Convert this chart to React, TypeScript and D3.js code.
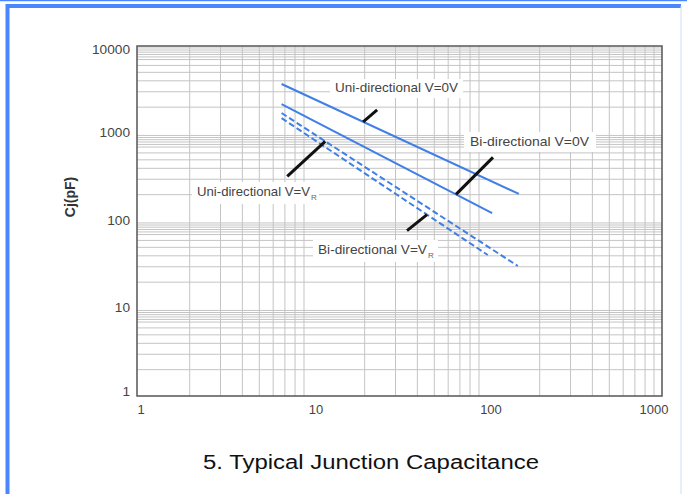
import * as d3 from "d3";

// reverse voltage (V) on x, junction capacitance (pF) on y
const seriesNames = [
  "Uni-directional V=0V",
  "Bi-directional V=0V",
  "Uni-directional V=VR",
  "Bi-directional V=VR",
];
const voltsStart = [6.7, 6.7, 6.7, 6.7];
const voltsEnd = [152, 107, 150, 101];
const capStart = [3680, 2170, 1715, 1500];
const capEnd = [204, 123, 30.6, 40.9];
const dashed = [false, false, true, true];

const xTicks = [1, 10, 100, 1000];
const yTicks = [1, 10, 100, 1000, 10000];
// where each leader line touches its series
const leaderVolts = [19.6, 66.5, 11.9, 45.4];

const W = 687;
const H = 494;
const margin = { left: 137, right: 25, top: 46, bottom: 98 };
const blue = "#3f7fe6";
const frameBlue = "#4a86ff";

const App = () => {
  const x = d3
    .scaleLog()
    .domain([1, 1000])
    .range([margin.left, W - margin.right]);
  const y = d3
    .scaleLog()
    .domain([1, 10000])
    .range([H - margin.bottom, margin.top]);

  const xMinor: number[] = [];
  for (let d = 1; d < 1000; d *= 10)
    for (let k = 2; k <= 9; k++) xMinor.push(d * k);

  const yMinor: number[] = [];
  const steps = [2, 3, 4, 5, 6, 7, 7.5, 8, 8.5, 9, 9.5];
  for (let d = 1; d < 10000; d *= 10) steps.forEach((k) => yMinor.push(d * k));

  const line = d3
    .line<[number, number]>()
    .x((d) => x(d[0]))
    .y((d) => y(d[1]));

  // value on a straight log-log segment
  const capAt = (i: number, v: number) => {
    const t =
      (Math.log10(v) - Math.log10(voltsStart[i])) /
      (Math.log10(voltsEnd[i]) - Math.log10(voltsStart[i]));
    return 10 ** (Math.log10(capStart[i]) + t * (Math.log10(capEnd[i]) - Math.log10(capStart[i])));
  };

  const labels = [
    { dx: 14, dy: -12, tx: 335, ty: 92, len: 123, box: [330, 79, 133, 19], sub: false },
    { dx: 37, dy: -37, tx: 470, ty: 146, len: 119, box: [464, 132, 132, 20], sub: false },
    { dx: -38, dy: 35, tx: 197, ty: 196, len: 113, box: [192, 182, 127, 22], sub: true },
    { dx: -20, dy: 16, tx: 318, ty: 254, len: 109, box: [313, 240, 125, 22], sub: true },
  ];

  const [x0, x1] = x.range();
  const [y0, y1] = y.range();

  return (
    <svg
      width={W}
      height={H}
      style={{ position: "absolute", left: 0, top: 0, background: "#fff" }}
      fontFamily="'Liberation Sans', Arial, sans-serif"
    >
      {/* frame */}
      <line x1={0} x2={W} y1={0.5} y2={0.5} stroke={frameBlue} strokeWidth={1.5} />
      <path
        d={`M7.5,${H + 2} V6 H${W - 6}`}
        fill="none"
        stroke={frameBlue}
        strokeWidth={4}
      />
      <line x1={W - 6} x2={W - 6} y1={6} y2={H} stroke="#cfdcf7" strokeWidth={1} />

      {/* grid */}
      <g stroke="#c4c4c4" strokeWidth={1}>
        {xMinor.map((v) => (
          <line key={"vx" + v} x1={x(v)} x2={x(v)} y1={y1} y2={y0} />
        ))}
        {yMinor.map((v) => (
          <line key={"hy" + v} x1={x0} x2={x1} y1={y(v)} y2={y(v)} />
        ))}
      </g>
      <rect
        x={x0}
        y={y1}
        width={x1 - x0}
        height={y0 - y1}
        fill="none"
        stroke="#555"
        strokeWidth={1.5}
      />

      {/* series */}
      {seriesNames.map((name, i) => (
        <path
          key={name}
          d={line([
            [voltsStart[i], capStart[i]],
            [voltsEnd[i], capEnd[i]],
          ])!}
          fill="none"
          stroke={blue}
          strokeWidth={2}
          strokeDasharray={dashed[i] ? "6 3" : undefined}
        />
      ))}

      {/* annotations */}
      {labels.map((l, i) => {
        const px = x(leaderVolts[i]);
        const py = y(capAt(i, leaderVolts[i]));
        const text = seriesNames[i].replace("VR", "V");
        return (
          <g key={"lab" + i}>
            <line
              x1={px}
              y1={py}
              x2={px + l.dx}
              y2={py + l.dy}
              stroke="#111"
              strokeWidth={3}
            />
            <rect x={l.box[0]} y={l.box[1]} width={l.box[2]} height={l.box[3]} fill="#fff" />
            <text
              x={l.tx}
              y={l.ty}
              fontSize={13}
              fill="#444"
              textLength={l.len}
              lengthAdjust="spacingAndGlyphs"
            >
              {text}
            </text>
            {l.sub && (
              <text x={l.tx + l.len + 1} y={l.ty + 4} fontSize={8} fill="#666">
                R
              </text>
            )}
          </g>
        );
      })}

      {/* axes labels */}
      {yTicks.map((v) => (
        <text
          key={"yt" + v}
          x={x0 - 7}
          y={y(v)}
          dy={v === 10000 ? "0.6em" : v === 1 ? "0em" : "0.3em"}
          textAnchor="end"
          fontSize={13}
          fill="#444"
          textLength={String(v).length * 7.6}
          lengthAdjust="spacingAndGlyphs"
        >
          {v}
        </text>
      ))}
      {xTicks.map((v) => (
        <text
          key={"xt" + v}
          x={v === 1000 ? x(v) - 8 : x(v) + 4}
          y={y0 + 18}
          textAnchor="middle"
          fontSize={13}
          fill="#444"
        >
          {v}
        </text>
      ))}
      <text
        transform={`translate(75,197) rotate(-90)`}
        textAnchor="middle"
        fontSize={14}
        fontWeight="bold"
        fill="#333"
      >
        Cj(pF)
      </text>

      <text
        x={371}
        y={469}
        textAnchor="middle"
        fontSize={20}
        fill="#111"
        textLength={336}
        lengthAdjust="spacingAndGlyphs"
      >
        5. Typical Junction Capacitance
      </text>
    </svg>
  );
};

export default App;
